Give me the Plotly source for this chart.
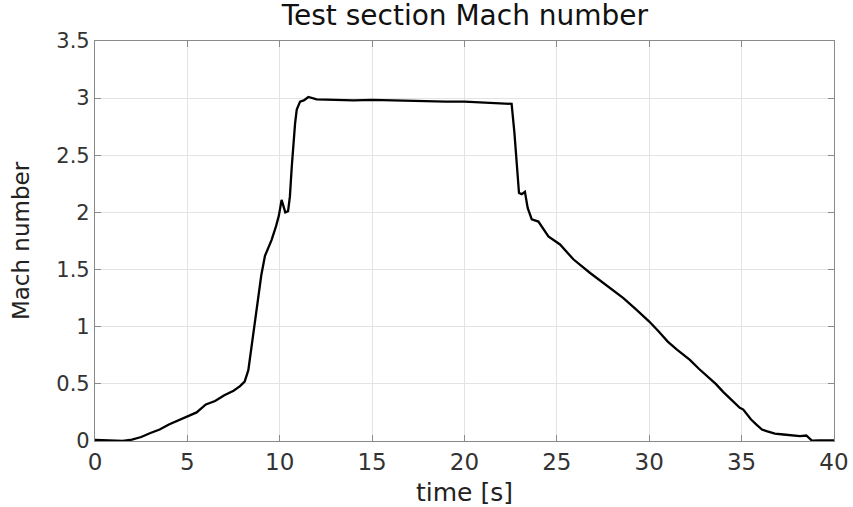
import plotly.graph_objects as go

time_s = [0.0, 0.3, 0.6, 1.0, 1.5, 2.0, 2.5, 3.0, 3.5, 4.0, 4.5, 5.0, 5.5, 6.0, 6.5,
          7.0, 7.5, 7.85, 8.1, 8.3, 8.45, 8.6, 8.84, 9.0, 9.2, 9.4, 9.56, 9.8, 9.95,
          10.1, 10.2, 10.3, 10.45, 10.55, 10.65, 10.75, 10.83, 10.92, 11.1, 11.3,
          11.55, 12.0, 13.0, 14.0, 15.0, 16.0, 17.0, 18.0, 19.0, 20.0, 20.84, 21.5,
          22.55, 22.7, 22.86, 22.95, 23.1, 23.27, 23.42, 23.64, 24.0, 24.18, 24.54,
          25.17, 25.89, 26.8, 27.3, 27.7, 28.6, 29.3, 30.0, 30.5, 31.0, 31.5, 32.0,
          32.2, 32.7, 33.3, 33.6, 34.0, 34.5, 34.9, 35.09, 35.5, 35.8, 36.1, 36.35,
          36.8, 37.26, 37.8, 38.16, 38.5, 38.8, 39.2, 40.0]
mach = [0.01, 0.008, 0.012, 0.003, 0.0, 0.012, 0.035, 0.07, 0.10, 0.145, 0.18, 0.215,
        0.25, 0.32, 0.35, 0.40, 0.44, 0.48, 0.52, 0.62, 0.80, 1.0, 1.25, 1.45, 1.62,
        1.70, 1.76, 1.88, 1.97, 2.11, 2.05, 2.00, 2.01, 2.14, 2.40, 2.62, 2.78, 2.90,
        2.97, 2.98, 3.01, 2.99, 2.985, 2.98, 2.985, 2.98, 2.975, 2.975, 2.97, 2.97,
        2.965, 2.955, 2.95, 2.70, 2.40, 2.17, 2.16, 2.18, 2.04, 1.94, 1.92, 1.88,
        1.79, 1.72, 1.59, 1.47, 1.41, 1.36, 1.25, 1.15, 1.045, 0.96, 0.87, 0.80,
        0.73, 0.71, 0.63, 0.54, 0.50, 0.43, 0.35, 0.29, 0.275, 0.19, 0.144, 0.10,
        0.086, 0.065, 0.057, 0.05, 0.042, 0.048, 0.004, 0.006, 0.006]

x_ticks = [0, 5, 10, 15, 20, 25, 30, 35, 40]
y_ticks = [0, 0.5, 1, 1.5, 2, 2.5, 3, 3.5]
y_tick_text = ["0", "0.5", "1", "1.5", "2", "2.5", "3", "3.5"]

font = "DejaVu Sans, Liberation Sans, Arial, sans-serif"

fig = go.Figure()
fig.add_trace(go.Scatter(x=time_s, y=mach, mode="lines",
                         line=dict(color="black", width=2.3), showlegend=False))

axis_common = dict(showline=True, linecolor="#8a8a8a", linewidth=1.2, mirror="allticks",
                   ticks="inside", ticklen=6, tickcolor="#8a8a8a", tickwidth=1,
                   showgrid=True, gridcolor="#e3e3e3", gridwidth=1, zeroline=False,
                   automargin=False)

fig.update_layout(
    width=853, height=507,
    margin=dict(l=95, r=19, t=41, b=66),
    paper_bgcolor="white", plot_bgcolor="white",
    title=dict(text="Test section Mach number", x=0.545, xanchor="center",
               y=0.97, yanchor="middle", font=dict(family=font, size=28, color="#111")),
    xaxis=dict(range=[0, 40], tickvals=x_ticks, title=dict(text="time [s]", standoff=10,
               font=dict(family=font, size=25, color="#222")),
               tickfont=dict(family=font, size=23, color="#333"), **axis_common),
    yaxis=dict(range=[0, 3.5], tickvals=y_ticks, ticktext=y_tick_text,
               title=dict(text="Mach number", standoff=20,
                          font=dict(family=font, size=23, color="#222")),
               tickfont=dict(family=font, size=21, color="#333"), **axis_common),
)

fig.write_html("out.html")
